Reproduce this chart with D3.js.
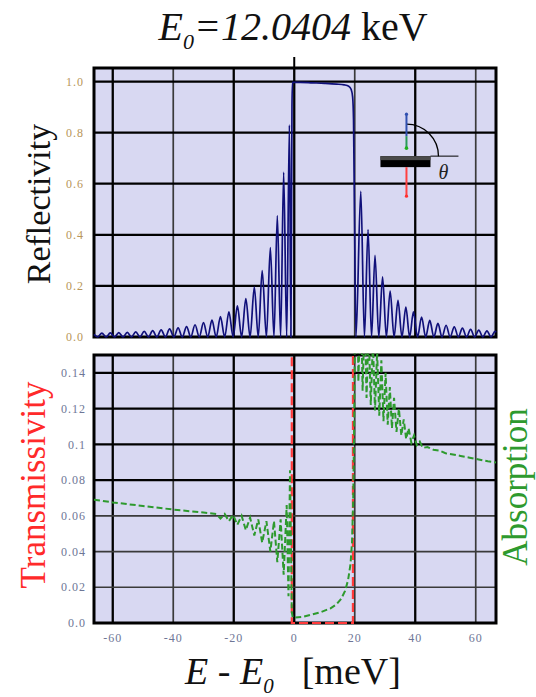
<!DOCTYPE html>
<html>
<head>
<meta charset="utf-8">
<script src="https://cdn.jsdelivr.net/npm/d3@7"></script>
<style>
  body { margin: 0; background: #fff; }
  svg { display: block; font-family: "Liberation Serif", "Times New Roman", serif; }
</style>
</head>
<body>
<svg id="chart" width="536" height="697"></svg>
<script>
// ---- data ----
var xTicks = [-60, -40, -20, 0, 20, 40, 60];
var reflTicks = [0, 0.2, 0.4, 0.6, 0.8, 1.0];
var reflTickLabels = ["0.0", "0.2", "0.4", "0.6", "0.8", "1.0"];
var lowTicks = [0, 0.02, 0.04, 0.06, 0.08, 0.10, 0.12, 0.14];
var lowTickLabels = ["0.0", "0.02", "0.04", "0.06", "0.08", "0.1", "0.12", "0.14"];

// reflectivity: fringe peaks and zeros, then the plateau, then right fringes
var reflE = [-66.2, -65.0, -63.6, -62.2, -60.8, -59.4, -58.0, -56.6, -55.2, -53.8, -52.4, -51.0,
             -49.6, -48.2, -46.8, -45.4, -44.0, -42.6, -41.2, -39.8, -38.4, -37.0, -35.6, -34.2,
             -32.8, -31.4, -30.0, -28.6, -27.2, -25.8, -24.4, -23.0, -21.6, -20.2, -18.8, -17.4,
             -16.0, -14.6, -13.2, -11.9, -10.6, -9.2, -7.9, -6.7, -5.6, -4.5, -3.5, -2.5,
             -1.6, -1.1, -0.75, -0.6, 2, 6, 10, 14, 16.5, 18, 18.8, 19.3, 19.6, 19.9,
             20.4, 22.0, 23.2, 24.4, 25.55, 26.7, 27.95, 29.2, 30.45, 31.7, 33.0, 34.3,
             35.6, 36.9, 38.15, 39.4, 40.75, 42.1, 43.45, 44.8, 46.15, 47.5, 48.85, 50.2,
             51.55, 52.9, 54.25, 55.6, 56.95, 58.3, 59.65, 61.0, 62.35, 63.7, 65.05, 66.4, 66.7];
var reflR = [0.010, 0, 0.015, 0, 0.016, 0, 0.017, 0, 0.018, 0, 0.020, 0,
             0.022, 0, 0.025, 0, 0.028, 0, 0.032, 0, 0.036, 0, 0.041, 0,
             0.048, 0, 0.056, 0, 0.066, 0, 0.080, 0, 0.098, 0, 0.122, 0,
             0.150, 0, 0.195, 0, 0.260, 0, 0.350, 0, 0.475, 0, 0.645, 0,
             0.830, 0, 0.900, 0.997, 0.997, 0.995, 0.993, 0.990, 0.987, 0.982, 0.970, 0.940, 0.850, 0.500,
             0, 0.570, 0, 0.420, 0, 0.320, 0, 0.235, 0, 0.180, 0, 0.143,
             0, 0.117, 0, 0.098, 0, 0.078, 0, 0.065, 0, 0.053, 0, 0.046,
             0, 0.040, 0, 0.035, 0, 0.030, 0, 0.027, 0, 0.024, 0, 0.022, 0.018];

// transmissivity (mostly off scale, near zero inside the band)
var transE = [-66.2, -0.85, -0.8, 19.4, 19.45, 66.7];
var transT = [0.93, 0.90, 0.0, 0.0, 0.90, 0.93];

// absorption
var absE = [-66.2, -60, -50, -40, -30, -25.8, -24.4, -23.0, -21.6, -20.2, -18.8, -17.4,
            -16.0, -14.6, -13.2, -11.9, -10.6, -9.2, -7.9, -6.7, -5.6, -4.5, -3.5, -2.5,
            -1.9, -1.4, -0.8, -0.5, 0, 3, 6, 9, 12, 14, 15.5, 16.8, 17.8, 18.6, 19.1, 19.5,
            19.8, 20.1, 20.8, 21.2, 22.0, 22.6, 23.3, 23.9, 24.6, 25.3, 26.0, 26.7, 27.4, 28.1,
            28.8, 29.5, 30.2, 30.9, 31.6, 32.3, 33.0, 33.8, 34.6, 35.4, 36.2, 37.0, 37.8, 38.7,
            39.6, 40.5, 41.5, 42.5, 44, 46, 48, 50, 52, 55, 58, 61, 64, 66.7];
var absA = [0.069, 0.0675, 0.0655, 0.0635, 0.0618, 0.061, 0.0585, 0.061, 0.057, 0.0605, 0.055, 0.060,
            0.052, 0.059, 0.049, 0.058, 0.045, 0.057, 0.040, 0.057, 0.034, 0.058, 0.027, 0.066,
            0.015, 0.0855, 0.006, 0.003, 0.003, 0.0035, 0.0048, 0.0062, 0.0082, 0.0105, 0.0135, 0.018, 0.024, 0.033, 0.045, 0.070,
            0.110, 0.170, 0.200, 0.135, 0.185, 0.130, 0.175, 0.126, 0.165, 0.122, 0.158, 0.119, 0.152, 0.116,
            0.147, 0.113, 0.140, 0.111, 0.132, 0.109, 0.126, 0.107, 0.120, 0.105, 0.114, 0.103, 0.109, 0.101,
            0.105, 0.0995, 0.1015, 0.098, 0.0985, 0.097, 0.0965, 0.095, 0.0945, 0.0935, 0.0925, 0.0915, 0.0905, 0.0898];

var reflData = reflE.map(function(e, i) { return [e, reflR[i]]; }),
    transData = transE.map(function(e, i) { return [e, transT[i]]; }),
    absData = absE.map(function(e, i) { return [e, absA[i]]; });

// ---- layout ----
var svg = d3.select("#chart"),
    left = 94, right = 496,
    topA = 68, bottomA = 337,
    topB = 355, bottomB = 623,
    plotBg = "#d8d8f2",
    lightGrid = [-40, 20, 60, 0.02, 0.04, 0.06];

var x = d3.scaleLinear().domain([-66.2, 66.7]).range([left, right]);
var yR = d3.scaleLinear().domain([0, 1.053]).range([bottomA, topA]);
var yL = d3.scaleLinear().domain([0, 0.15]).range([bottomB, topB]);

function gridStroke(v) { return lightGrid.indexOf(v) >= 0 ? "#3a3a3a" : "#000"; }
function gridWidth(v) { return lightGrid.indexOf(v) >= 0 ? 1.7 : 2.3; }

function drawPanel(name, y, ticks, labels, labelColor, labelX) {
    var y0 = y.range()[0], y1 = y.range()[1];
    var g = svg.append("g").attr("class", name);

    g.append("rect")
        .attr("x", left).attr("y", y1)
        .attr("width", right - left).attr("height", y0 - y1)
        .attr("fill", plotBg);

    g.selectAll("line.vgrid")
        .data(xTicks)
        .enter().append("line")
        .attr("class", "vgrid")
        .attr("x1", function(d) { return x(d); })
        .attr("x2", function(d) { return x(d); })
        .attr("y1", y1).attr("y2", y0)
        .attr("stroke", gridStroke)
        .attr("stroke-width", gridWidth);

    g.selectAll("line.hgrid")
        .data(ticks.filter(function(d) { return d > 0; }))
        .enter().append("line")
        .attr("class", "hgrid")
        .attr("x1", left).attr("x2", right)
        .attr("y1", function(d) { return y(d); })
        .attr("y2", function(d) { return y(d); })
        .attr("stroke", gridStroke)
        .attr("stroke-width", gridWidth);

    g.append("rect")
        .attr("x", left).attr("y", y1)
        .attr("width", right - left).attr("height", y0 - y1)
        .attr("fill", "none")
        .attr("stroke", "#000")
        .attr("stroke-width", 3);

    g.selectAll("text.ytick")
        .data(ticks)
        .enter().append("text")
        .attr("class", "ytick")
        .attr("x", labelX)
        .attr("y", function(d) { return y(d); })
        .attr("dy", "0.35em")
        .attr("text-anchor", "end")
        .attr("font-size", 12)
        .attr("letter-spacing", 1)
        .attr("fill", labelColor)
        .text(function(d, i) { return labels[i]; });

    svg.append("clipPath").attr("id", "clip-" + name)
        .append("rect")
        .attr("x", left - 1).attr("y", y1 - 1.5)
        .attr("width", right - left + 2).attr("height", y0 - y1 + 3);

    return g;
}

var panelA = drawPanel("refl", yR, reflTicks, reflTickLabels, "#b8965a", 84);
var panelB = drawPanel("trans", yL, lowTicks, lowTickLabels, "#6e7696", 86);

// tick mark above the top frame at E = E0
svg.append("line")
    .attr("x1", x(0)).attr("x2", x(0))
    .attr("y1", topA - 11).attr("y2", topA)
    .attr("stroke", "#000").attr("stroke-width", 2);

// reflectivity curve
var lineR = d3.line()
    .x(function(d) { return x(d[0]); })
    .y(function(d) { return yR(d[1]); })
    .curve(d3.curveMonotoneX);

panelA.append("path")
    .datum(reflData)
    .attr("clip-path", "url(#clip-refl)")
    .attr("d", lineR)
    .attr("fill", "none")
    .attr("stroke", "#10107a")
    .attr("stroke-width", 1.7);

// transmissivity and absorption
var lineL = d3.line()
    .x(function(d) { return x(d[0]); })
    .y(function(d) { return yL(d[1]); });

panelB.append("path")
    .datum(transData)
    .attr("clip-path", "url(#clip-trans)")
    .attr("d", lineL)
    .attr("fill", "none")
    .attr("stroke", "#ff3a3a")
    .attr("stroke-width", 2.2)
    .attr("stroke-dasharray", "9,4");

panelB.append("path")
    .datum(absData)
    .attr("clip-path", "url(#clip-trans)")
    .attr("d", lineL)
    .attr("fill", "none")
    .attr("stroke", "#2e9a2e")
    .attr("stroke-width", 2)
    .attr("stroke-dasharray", "6,3");

// inset sketch of the reflection geometry
var ax = x(37.1), ay = yR(0.708);
var inset = panelA.append("g").attr("class", "inset");
inset.append("rect").attr("x", ax - 26).attr("y", ay).attr("width", 50).attr("height", 11).attr("fill", "#000");
inset.append("rect").attr("x", ax - 26).attr("y", ay).attr("width", 50).attr("height", 4).attr("fill", "#4a4a4a");
inset.append("line").attr("x1", ax + 24).attr("x2", ax + 52).attr("y1", ay).attr("y2", ay)
    .attr("stroke", "#000").attr("stroke-width", 1);
inset.append("path")
    .attr("d", "M" + ax + "," + (ay - 32) + " A32,32 0 0,1 " + (ax + 32) + "," + ay)
    .attr("fill", "none").attr("stroke", "#000").attr("stroke-width", 1.3);
inset.append("line").attr("x1", ax).attr("x2", ax).attr("y1", ay - 42).attr("y2", ay - 20)
    .attr("stroke", "#3050b0").attr("stroke-width", 2);
inset.append("line").attr("x1", ax).attr("x2", ax).attr("y1", ay - 20).attr("y2", ay - 8)
    .attr("stroke", "#2a9a5a").attr("stroke-width", 2);
inset.append("circle").attr("cx", ax).attr("cy", ay - 42).attr("r", 1.6).attr("fill", "#3050b0");
inset.append("circle").attr("cx", ax).attr("cy", ay - 8).attr("r", 1.8).attr("fill", "#20b020");
inset.append("line").attr("x1", ax).attr("x2", ax).attr("y1", ay + 11).attr("y2", ay + 40)
    .attr("stroke", "#ff4040").attr("stroke-width", 2);
inset.append("circle").attr("cx", ax).attr("cy", ay + 40).attr("r", 1.6).attr("fill", "#ff3030");
inset.append("text").attr("x", ax + 32).attr("y", ay + 23)
    .attr("font-size", 20).attr("font-style", "italic").attr("fill", "#222")
    .text("\u03b8");

// x tick labels
svg.selectAll("text.xtick")
    .data(xTicks)
    .enter().append("text")
    .attr("class", "xtick")
    .attr("x", function(d) { return x(d); })
    .attr("y", 642)
    .attr("text-anchor", "middle")
    .attr("font-size", 12)
    .attr("letter-spacing", 1)
    .attr("fill", "#6e7696")
    .text(function(d) { return d; });

// title
var title = svg.append("text")
    .attr("x", 293).attr("y", 40)
    .attr("text-anchor", "middle")
    .attr("font-size", 40)
    .attr("fill", "#111");
title.append("tspan").attr("font-style", "italic").text("E");
title.append("tspan").attr("font-style", "italic").attr("font-size", 22).attr("dy", 9).text("0");
title.append("tspan").attr("font-style", "italic").attr("dy", -9).text("=12.0404");
title.append("tspan").text(" keV");

// x axis title
var xTitle = svg.append("text")
    .attr("x", 293).attr("y", 684)
    .attr("text-anchor", "middle")
    .attr("font-size", 38)
    .attr("fill", "#111");
xTitle.append("tspan").attr("font-style", "italic").text("E");
xTitle.append("tspan").text(" - ");
xTitle.append("tspan").attr("font-style", "italic").text("E");
xTitle.append("tspan").attr("font-style", "italic").attr("font-size", 21).attr("dy", 9).text("0");
xTitle.append("tspan").attr("dy", -9).attr("dx", 28).text("[meV]");

// y axis titles
svg.append("text")
    .attr("transform", "translate(50,204) rotate(-90)")
    .attr("text-anchor", "middle")
    .attr("font-size", 34)
    .attr("fill", "#111")
    .text("Reflectivity");

svg.append("text")
    .attr("transform", "translate(45,485) rotate(-90)")
    .attr("text-anchor", "middle")
    .attr("font-size", 35)
    .attr("fill", "#ff2a2a")
    .text("Transmissivity");

svg.append("text")
    .attr("transform", "translate(527,487) rotate(-90)")
    .attr("text-anchor", "middle")
    .attr("font-size", 35)
    .attr("fill", "#2e9a2e")
    .text("Absorption");
</script>
</body>
</html>
